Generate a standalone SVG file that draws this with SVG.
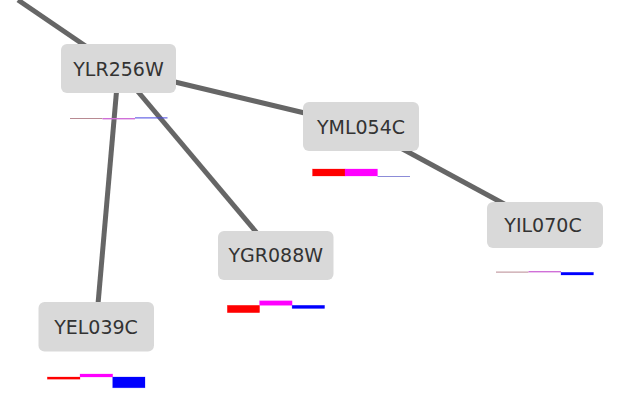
<svg xmlns="http://www.w3.org/2000/svg" width="627" height="409" viewBox="0 0 627 409">
<style>
.edge{stroke:#666;stroke-width:5;fill:none}
.box{fill:#d9d9d9}
.lbl{font-family:"DejaVu Sans",sans-serif;font-size:19px;fill:#333;text-anchor:middle}
.r{fill:#ff0000;stroke:#ff0000;stroke-opacity:0.4;stroke-width:0.6}
.m{fill:#ff00ff;stroke:#ff00ff;stroke-opacity:0.4;stroke-width:0.6}
.b{fill:#0000ff;stroke:#0000ff;stroke-opacity:0.4;stroke-width:0.6}
.tr{fill:#b88a92}
.tm{fill:#d070d8}
.tb{fill:#4848e0}
.tb2{fill:#8c8cd8}
</style>
<rect width="627" height="409" fill="#ffffff"/>
<g id="connectors">
<line class="edge" x1="18" y1="0" x2="118.5" y2="68.5"/>
<line class="edge" x1="118.5" y1="68.5" x2="361" y2="126.5"/>
<line class="edge" x1="118.5" y1="68.5" x2="275.8" y2="255.5"/>
<line class="edge" x1="118.5" y1="68.5" x2="96" y2="327"/>
<line class="edge" x1="361" y1="126.5" x2="543" y2="225"/>
</g>
<g id="YLR256W">
<rect class="box" x="61" y="44" width="115" height="49" rx="6"/>
<text class="lbl" x="118.5" y="76">YLR256W</text>
<rect class="tr" x="70" y="118" width="32.5" height="1"/>
<rect class="tm" x="102.5" y="118" width="32.5" height="1.4"/>
<rect class="tb" x="135" y="117.4" width="32.5" height="1"/>
</g>
<g id="YML054C">
<rect class="box" x="303" y="102" width="116" height="49" rx="6"/>
<text class="lbl" x="361" y="134">YML054C</text>
<rect class="r" x="312.5" y="169" width="32.5" height="7"/>
<rect class="m" x="345" y="169" width="32.5" height="7"/>
<rect class="tb2" x="377.5" y="176" width="32.5" height="1"/>
</g>
<g id="YIL070C">
<rect class="box" x="487" y="202" width="116" height="46" rx="6"/>
<text class="lbl" x="543" y="232">YIL070C</text>
<rect class="tr" x="496" y="271.6" width="32.5" height="1"/>
<rect class="tm" x="528.5" y="271" width="32.5" height="1.4"/>
<rect class="b" x="561" y="272.3" width="32.5" height="2.7"/>
</g>
<g id="YGR088W">
<rect class="box" x="218" y="231" width="115.5" height="49" rx="6"/>
<text class="lbl" x="275.8" y="262">YGR088W</text>
<rect class="r" x="227.3" y="305.3" width="32.3" height="7.4"/>
<rect class="m" x="259.6" y="300.8" width="32.5" height="4.5"/>
<rect class="b" x="292.1" y="305.3" width="32.5" height="3.2"/>
</g>
<g id="YEL039C">
<rect class="box" x="38.5" y="302" width="115.5" height="49.5" rx="6"/>
<text class="lbl" x="96" y="334">YEL039C</text>
<rect class="r" x="47.3" y="377" width="32.7" height="2.2"/>
<rect class="m" x="80" y="374" width="32.7" height="3"/>
<rect class="b" x="112.7" y="377" width="32.3" height="10.8"/>
</g>
</svg>
